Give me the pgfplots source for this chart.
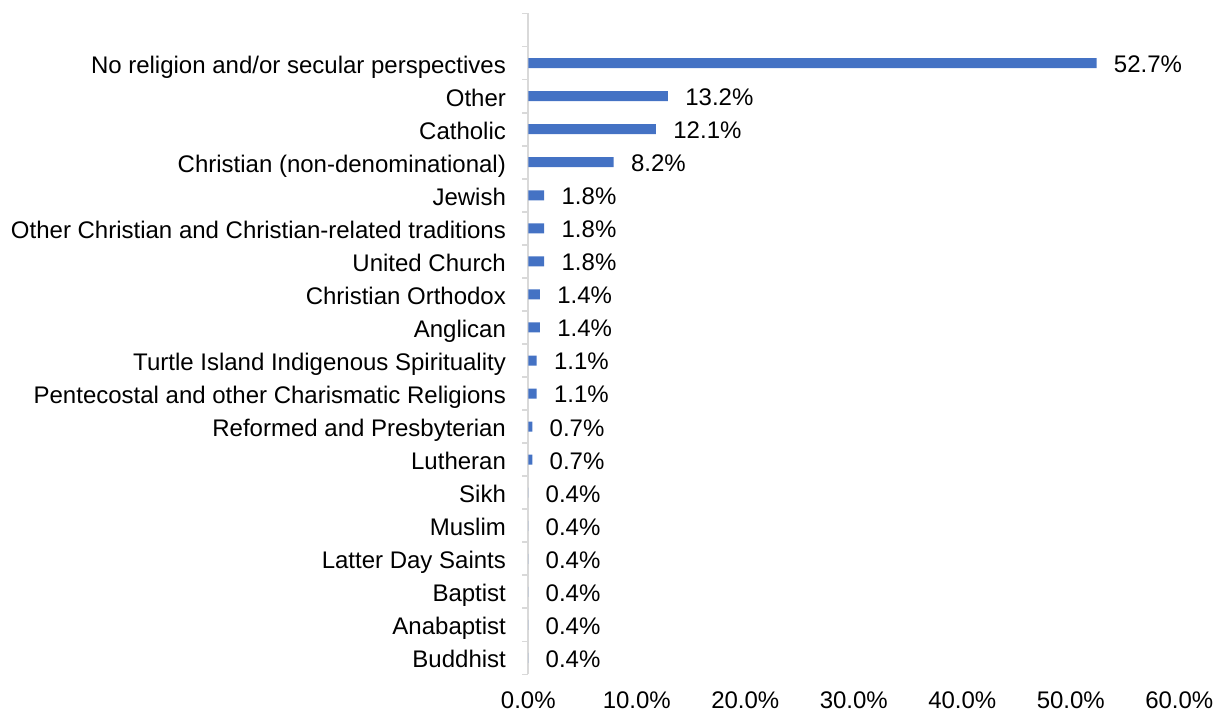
\documentclass[border=0pt]{standalone}
\usepackage{fontspec}
\setmainfont{Liberation Sans}
\usepackage{pgfplots}
\pgfplotsset{compat=1.18}
\definecolor{barblue}{HTML}{4472C4}
\definecolor{axgray}{HTML}{D9D9D9}
\begin{document}
\begin{tikzpicture}[font=\fontsize{12pt}{14pt}\selectfont]
\begin{axis}[
  xbar,
  scale only axis,
  width=325.5pt, height=330.5pt,
  xmin=0, xmax=60, ymin=0.5, ymax=20.5,
  enlarge y limits=false,
  bar width=5pt,
  axis x line*=bottom,
  axis y line*=left,
  x axis line style={draw=none},
  y axis line style={draw=axgray, line width=0.9pt},
  xtick={0,10,...,60},
  x tick style={draw=none},
  /pgf/number format/assume math mode=true,
  xticklabel={\pgfmathprintnumber[fixed,fixed zerofill,precision=1]{\tick}\%},
  xticklabel style={inner sep=0pt, anchor=north, yshift=-5.6pt},
  ytick={0.5,1.5,...,20.5},
  major tick length=3pt,
  tick align=outside,
  y tick style={draw=axgray, line width=0.9pt},
  yticklabels={Buddhist,Anabaptist,Baptist,Latter Day Saints,Muslim,Sikh,Lutheran,Reformed and Presbyterian,Pentecostal and other Charismatic Religions,Turtle Island Indigenous Spirituality,Anglican,Christian Orthodox,United Church,Other Christian and Christian-related traditions,Jewish,Christian (non-denominational),Catholic,Other,No religion and/or secular perspectives,{},{}},
  yticklabel style={inner sep=0pt, anchor=base east, xshift=-8pt, yshift=3.26pt},
  point meta=explicit symbolic,
  nodes near coords={\pgfplotspointmeta\%},
  nodes near coords style={anchor=base west, inner sep=0pt, xshift=8.5pt, yshift=-4.7pt, text=black},
  clip=false,
]
\addplot[fill=barblue, draw=none] table[x=x, y=y, meta=label] {
x y label
0.0 1 0.4
0.0 2 0.4
0.0 3 0.4
0.0 4 0.4
0.0 5 0.4
0.0 6 0.4
0.37 7 0.7
0.37 8 0.7
0.77 9 1.1
0.77 10 1.1
1.07 11 1.4
1.07 12 1.4
1.47 13 1.8
1.47 14 1.8
1.47 15 1.8
7.87 16 8.2
11.77 17 12.1
12.87 18 13.2
52.37 19 52.7
};
\end{axis}
\pgfresetboundingbox
\path[use as bounding box] (current axis.south west) ++(-264.15pt,-18.25pt) rectangle ++(607.5pt,355.5pt);
\end{tikzpicture}
\end{document}
